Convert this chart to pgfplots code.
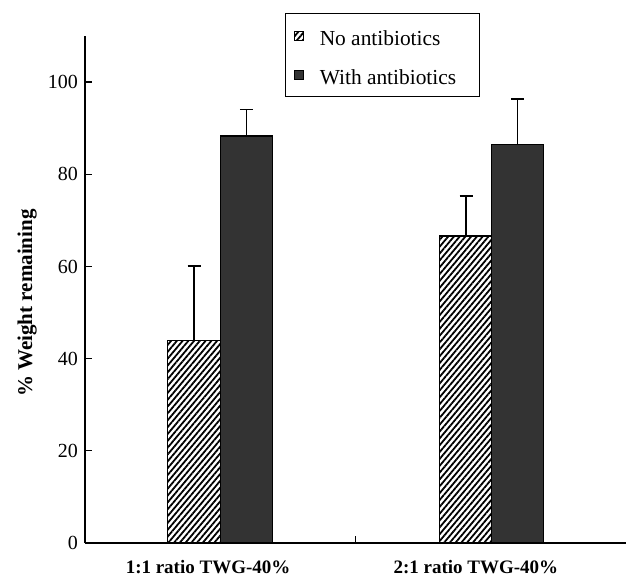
\documentclass[border=0pt]{standalone}
\usepackage{fontspec}
\setmainfont{Liberation Serif}
\usepackage{pgfplots}
\pgfplotsset{compat=1.18}
\usetikzlibrary{patterns.meta}
\definecolor{darkbar}{HTML}{333333}
\begin{document}
\begin{tikzpicture}
\useasboundingbox (-42.5pt,-18pt) rectangle (270.5pt,271.5pt);
\begin{axis}[
  scale only axis, width=270.5pt, height=253.5pt,
  xmin=0, xmax=2, ymin=0, ymax=110,
  axis x line*=bottom, axis y line*=left,
  axis line style={-, line width=0.6pt, black},
  ytick={0,20,...,100},
  tick align=inside, major tick length=3.5pt,
  tick style={line width=0.6pt, black},
  xtick={1}, xticklabels={},
  extra x ticks={0.455,1.445},
  extra x tick labels={\textbf{1:1 ratio TWG-40\%},\textbf{2:1 ratio TWG-40\%}},
  extra x tick style={major tick length=0pt},
  xticklabel style={yshift=-5pt, font=\fontsize{9.5}{11}\selectfont},
  yticklabel style={font=\fontsize{10}{12}\selectfont},
  /pgf/number format/assume math mode=true,
  ylabel={\% Weight remaining},
  ylabel style={font=\bfseries\fontsize{10.5}{12}\selectfont, at={(axis description cs:-0.107,0.473)}, anchor=center},
  legend image code/.code={\draw[#1,line width=0.5pt] (0pt,-2.25pt) rectangle (4.5pt,2.25pt);},
  legend cell align=left,
  legend style={at={(axis description cs:0.37,1.045)}, anchor=north west, draw=black, line width=0.6pt,
    font=\fontsize{10.7}{12}\selectfont, row sep=2.5pt, column sep=6pt, inner xsep=4pt, inner ysep=2.5pt},
]
\addplot[ybar, bar width=0.194, bar shift=0pt, draw=black, line width=0.6pt,
  pattern={Lines[angle=50,distance=2.2pt,line width=0.9pt]}, pattern color=black,
  error bars/.cd, y dir=plus, y explicit,
  error bar style={line width=0.65pt, black},
  error mark options={rotate=90, mark size=3.25pt, line width=0.65pt, black}]
  coordinates {(0.403,44.0) +- (0,16.1) (1.409,66.6) +- (0,8.7)};
\addlegendentry{\rule{0pt}{11.5pt}\makebox[74pt][l]{No antibiotics}}
\addplot[ybar, bar width=0.194, bar shift=0pt, draw=black, line width=0.6pt, fill=darkbar,
  error bars/.cd, y dir=plus, y explicit,
  error bar style={line width=0.65pt, black},
  error mark options={rotate=90, mark size=3.25pt, line width=0.65pt, black}]
  coordinates {(0.597,88.3) +- (0,5.8) (1.599,86.5) +- (0,9.8)};
\addlegendentry{\rule{0pt}{11.5pt}\makebox[74pt][l]{With antibiotics}}
\end{axis}
\end{tikzpicture}
\end{document}
